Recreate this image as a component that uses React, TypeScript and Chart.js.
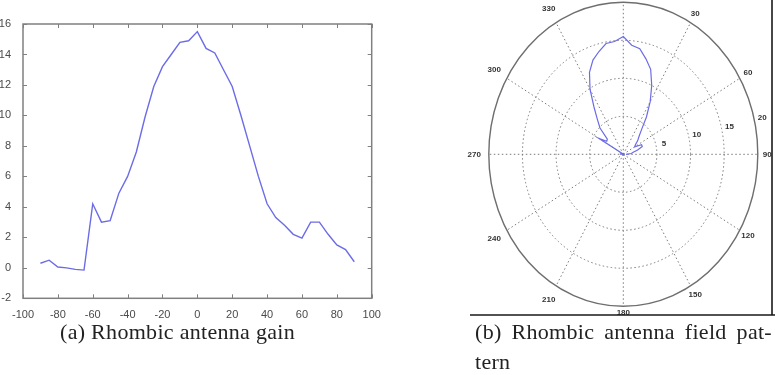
import React, { useEffect, useRef } from "react";
import { Chart, registerables } from "chart.js";

Chart.register(...registerables);

// ---- data ----
const angles = [-90, -85, -80, -75, -70, -65, -60, -55, -50, -45, -40, -35, -30, -25, -20, -15, -10, -5, 0, 5, 10, 15, 20, 25, 30, 35, 40, 45, 50, 55, 60, 65, 70, 75, 80, 85, 90];
const gain = [0.3, 0.5, 0.05, 0.0, -0.1, -0.15, 4.2, 3.0, 3.1, 4.9, 6.0, 7.6, 9.9, 11.9, 13.2, 14.0, 14.8, 14.9, 15.5, 14.4, 14.1, 13.0, 11.9, 10.0, 8.0, 6.0, 4.2, 3.3, 2.8, 2.2, 1.95, 3.0, 3.0, 2.2, 1.5, 1.2, 0.4];
const xTicks = [-100, -80, -60, -40, -20, 0, 20, 40, 60, 80, 100];
const yTicks = [-2, 0, 2, 4, 6, 8, 10, 12, 14, 16];
const polarRings = [5, 10, 15, 20];
const polarSpokes = [0, 30, 60, 90, 120, 150, 180, 210, 240, 270, 300, 330];
const polarRingLabels = ["5", "10", "15", "20"];
const polarMax = 20;

const LINE = "#6c6ce6";
const FRAME = "#808080";
const TICKFONT = { family: "Liberation Sans, Arial, sans-serif", size: 11 };

const framePlugin = {
  id: "matlabFrame",
  afterDraw(chart: any) {
    const { ctx, chartArea: a, scales } = chart;
    ctx.save();
    ctx.strokeStyle = FRAME;
    ctx.lineWidth = 1.5;
    ctx.strokeRect(a.left, a.top, a.right - a.left, a.bottom - a.top);
    ctx.lineWidth = 1;
    ctx.beginPath();
    xTicks.forEach((v) => {
      const px = Math.round(scales.x.getPixelForValue(v)) + 0.5;
      ctx.moveTo(px, a.bottom);
      ctx.lineTo(px, a.bottom - 4);
      ctx.moveTo(px, a.top);
      ctx.lineTo(px, a.top + 4);
    });
    yTicks.forEach((v) => {
      const py = Math.round(scales.y.getPixelForValue(v)) + 0.5;
      ctx.moveTo(a.left, py);
      ctx.lineTo(a.left + 4, py);
      ctx.moveTo(a.right, py);
      ctx.lineTo(a.right - 4, py);
    });
    ctx.stroke();
    ctx.restore();
  },
};

const polarPlugin = {
  id: "polarGrid",
  beforeDatasetsDraw(chart: any) {
    const { ctx, scales } = chart;
    const cx = scales.x.getPixelForValue(0);
    const cy = scales.y.getPixelForValue(0);
    const rx = (r: number) => scales.x.getPixelForValue(r) - cx;
    const ry = (r: number) => cy - scales.y.getPixelForValue(r);
    ctx.save();
    ctx.strokeStyle = "#7a7a7a";
    ctx.lineWidth = 1;
    ctx.setLineDash([1.5, 2.5]);
    polarRings.forEach((r) => {
      if (r === polarMax) return;
      ctx.beginPath();
      ctx.ellipse(cx, cy, rx(r), ry(r), 0, 0, Math.PI * 2);
      ctx.stroke();
    });
    polarSpokes.forEach((d) => {
      const t = (d * Math.PI) / 180;
      ctx.beginPath();
      ctx.moveTo(cx, cy);
      ctx.lineTo(cx + rx(polarMax) * Math.sin(t), cy - ry(polarMax) * Math.cos(t));
      ctx.stroke();
    });
    ctx.setLineDash([]);
    ctx.strokeStyle = "#6e6e6e";
    ctx.lineWidth = 1.4;
    ctx.beginPath();
    ctx.ellipse(cx, cy, rx(polarMax), ry(polarMax), 0, 0, Math.PI * 2);
    ctx.stroke();
    ctx.restore();
  },
  afterDraw(chart: any) {
    const { ctx, scales, width } = chart;
    const cx = scales.x.getPixelForValue(0);
    const cy = scales.y.getPixelForValue(0);
    const rx = (r: number) => scales.x.getPixelForValue(r) - cx;
    const ry = (r: number) => cy - scales.y.getPixelForValue(r);
    ctx.save();
    ctx.fillStyle = "#333";
    ctx.font = "bold 8px 'Liberation Sans', Arial, sans-serif";
    ctx.textAlign = "center";
    ctx.textBaseline = "middle";
    polarSpokes.forEach((d) => {
      const t = (d * Math.PI) / 180;
      const s = Math.sin(t);
      let f = s < -0.1 ? 1.108 : 1.07;
      if (d === 180) f = 1.042;
      const r = polarMax * f;
      ctx.fillText(String(d), cx + rx(r) * s, cy - ry(r) * Math.cos(t));
    });
    const la = (77 * Math.PI) / 180;
    polarRings.forEach((r, i) => {
      const rr = r + 1.2;
      ctx.fillText(polarRingLabels[i], cx + rx(rr) * Math.sin(la), cy - ry(rr) * Math.cos(la));
    });
    // image frame (right and bottom edges)
    ctx.strokeStyle = "#1a1a1a";
    ctx.lineWidth = 1.6;
    ctx.beginPath();
    ctx.moveTo(332, 0);
    ctx.lineTo(332, 315);
    ctx.moveTo(30, 315);
    ctx.lineTo(width, 315);
    ctx.stroke();
    ctx.restore();
  },
};

function GainChart() {
  const ref = useRef<HTMLCanvasElement>(null);
  useEffect(() => {
    const chart = new Chart(ref.current!, {
      type: "scatter",
      data: {
        datasets: [
          {
            data: angles.map((a, i) => ({ x: a, y: gain[i] })),
            showLine: true,
            borderColor: LINE,
            borderWidth: 1.4,
            pointRadius: 0,
            tension: 0,
          },
        ],
      },
      options: {
        animation: false,
        responsive: false,
        maintainAspectRatio: false,
        events: [],
        plugins: { legend: { display: false }, tooltip: { enabled: false } },
        layout: { padding: { top: 24, right: 18.3, left: 0, bottom: 0 } },
        scales: {
          x: {
            type: "linear",
            min: -100,
            max: 100,
            afterBuildTicks: (s: any) => {
              s.ticks = xTicks.map((v) => ({ value: v }));
            },
            afterFit: (s: any) => {
              s.height = 21.7;
            },
            grid: { display: false },
            border: { display: false },
            ticks: { autoSkip: false, maxRotation: 0, padding: 2, color: "#4a4a4a", font: TICKFONT },
          },
          y: {
            type: "linear",
            min: -2,
            max: 16,
            afterBuildTicks: (s: any) => {
              s.ticks = yTicks.map((v) => ({ value: v }));
            },
            afterFit: (s: any) => {
              s.width = 23;
            },
            grid: { display: false },
            border: { display: false },
            ticks: { autoSkip: false, padding: 4, color: "#4a4a4a", font: TICKFONT },
          },
        },
      } as any,
      plugins: [framePlugin],
    });
    return () => chart.destroy();
  }, []);
  return <canvas ref={ref} width={390} height={320} style={{ position: "absolute", left: 0, top: 0, width: 390, height: 320 }} />;
}

function PolarChart() {
  const ref = useRef<HTMLCanvasElement>(null);
  useEffect(() => {
    const toRad = (d: number) => (d * Math.PI) / 180;
    const chart = new Chart(ref.current!, {
      type: "scatter",
      data: {
        datasets: [
          {
            data: angles.map((a, i) => ({ x: gain[i] * Math.sin(toRad(a)), y: gain[i] * Math.cos(toRad(a)) })),
            showLine: true,
            borderColor: LINE,
            borderWidth: 1.2,
            pointRadius: 0,
            tension: 0,
          },
        ],
      },
      options: {
        animation: false,
        responsive: false,
        maintainAspectRatio: false,
        events: [],
        plugins: { legend: { display: false }, tooltip: { enabled: false } },
        layout: { padding: { left: 48.8, right: 17.2, top: 2.3, bottom: 13.7 } },
        scales: {
          x: { type: "linear", min: -polarMax, max: polarMax, display: false },
          y: { type: "linear", min: -polarMax, max: polarMax, display: false },
        },
      } as any,
      plugins: [polarPlugin],
    });
    return () => chart.destroy();
  }, []);
  return <canvas ref={ref} width={335} height={320} style={{ position: "absolute", left: 440, top: 0, width: 335, height: 320 }} />;
}

const captionStyle: React.CSSProperties = {
  position: "absolute",
  fontFamily: "'Liberation Serif', 'Times New Roman', serif",
  fontSize: 22,
  lineHeight: "27px",
  color: "#222",
  whiteSpace: "nowrap",
  letterSpacing: 0.3,
};

export default function App() {
  return (
    <div style={{ position: "fixed", left: 0, top: 0, width: 775, height: 375, background: "#fff", overflow: "hidden" }}>
      <GainChart />
      <PolarChart />
      <div style={{ ...captionStyle, left: 60, top: 318 }}>(a) Rhombic antenna gain</div>
      <div style={{ ...captionStyle, left: 475, top: 318, width: 297, textAlign: "justify", textAlignLast: "justify" as any, whiteSpace: "normal" }}>
        (b) Rhombic antenna field pat-
      </div>
      <div style={{ ...captionStyle, left: 475, top: 348 }}>tern</div>
    </div>
  );
}
